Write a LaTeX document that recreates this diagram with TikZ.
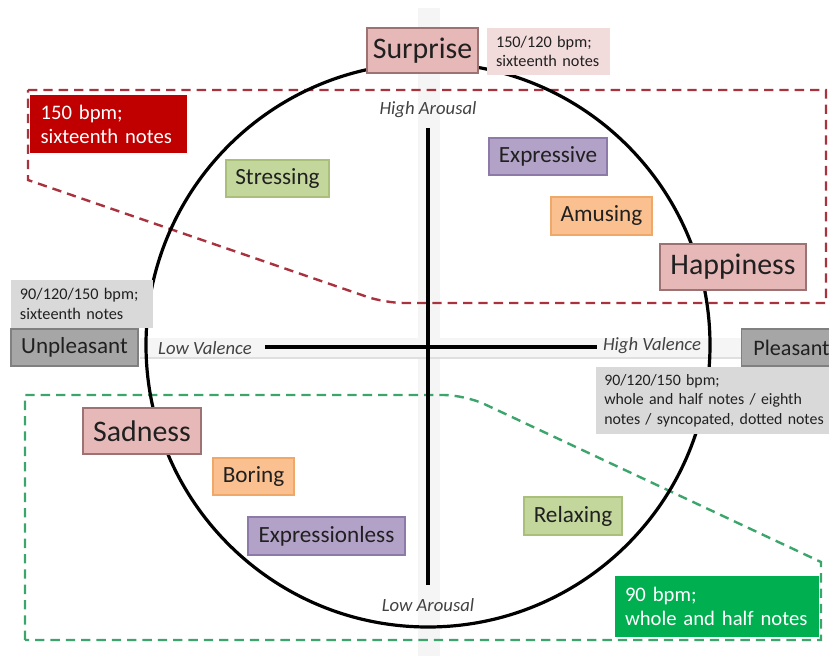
\documentclass[tikz,border=0pt]{standalone}
\usepackage{fontspec}
\setmainfont{Carlito}
\usepackage{xcolor}
\usetikzlibrary{positioning}
\definecolor{txt}{HTML}{202020}
\definecolor{rosefd}{HTML}{E6B9B8}
\definecolor{rosebd}{HTML}{9C7372}
\definecolor{roseclair}{HTML}{F2DCDB}
\definecolor{vertfd}{HTML}{C3D69B}
\definecolor{vertbd}{HTML}{A9BF7A}
\definecolor{violetfd}{HTML}{B3A2C7}
\definecolor{violetbd}{HTML}{8D7AA8}
\definecolor{orangefd}{HTML}{FAC090}
\definecolor{orangebd}{HTML}{F0A868}
\definecolor{grisclair}{HTML}{D9D9D9}
\definecolor{grisfonce}{HTML}{A6A6A6}
\definecolor{rougefort}{HTML}{C00000}
\definecolor{vertfort}{HTML}{00B050}
\definecolor{rougetir}{HTML}{A8333F}
\definecolor{verttir}{HTML}{3CA56C}

\begin{document}
\begin{tikzpicture}[x=0.75pt, y=-0.75pt,
 emo/.style={draw, line width=0.8pt, text=txt, inner sep=0pt, font=\fontsize{17.4}{19}\selectfont},
 grand/.style={emo, fill=rosefd, draw=rosebd, font=\fontsize{22.4}{24}\selectfont},
 note/.style={align=left, inner ysep=0pt, text=txt, font=\fontsize{12.2}{14.8}\selectfont},
 cadre/.style={align=left, inner ysep=0pt, text=white, font=\fontsize{15.5}{18}\selectfont},
 axe/.style={line width=2.4pt, black},
 axlbl/.style={text=txt!85, font=\fontsize{14}{16}\itshape\selectfont},
 tiret/.style={line width=1.8pt, dash pattern=on 7pt off 4.5pt}]
\useasboundingbox (0,0) rectangle (829,656);
% bandes grises
\fill[gray!8] (418,8) rectangle (440,656);
\fill[gray!8] (140,338) rectangle (745,358);
\draw[gray!25, line width=1pt] (140,358) -- (745,358);
% zones en tirets
\draw[tiret, rougetir] (28,90) -- (826,90) -- (826,303)
  [rounded corners=14pt] -- (385,303) [sharp corners] -- (28,180) -- cycle;
\draw[tiret, verttir] (25,640) -- (25,395) [rounded corners=16pt] -- (465,395)
  [sharp corners] -- (821,562) -- (821,640) -- cycle;
% cercle et axes
\node[draw, circle, line width=2.4pt, minimum size=423pt, inner sep=0pt] (cercle) at (428,345) {};
\coordinate (haut) at (428,128);
\coordinate (bas) at (428,585);
\coordinate (gauche) at (265,347);
\coordinate (droite) at (597,347);
\draw[axe] (haut) -- (bas);
\draw[axe] (gauche) -- (droite);
\node[axlbl] (ha) at (428,110) {High Arousal};
\node[axlbl] (la) at (428,605) {Low Arousal};
\node[axlbl] (lv) at (205,348) {Low Valence};
\node[axlbl] (hv) at (652,346) {High Valence};
% emotions principales
\node[grand, minimum width=83.25pt, minimum height=33.75pt] (surprise) at (422.5,50.5) {Surprise};
\node[grand, minimum width=109.5pt, minimum height=34.5pt] (happy) at (733,267) {Happiness};
\node[grand, minimum width=88.5pt, minimum height=34.5pt] (sad) at (142,431) {Sadness};
% qualificatifs
\node[emo, fill=vertfd, draw=vertbd, minimum width=77.25pt, minimum height=27.75pt] (stress) at (277.5,178.5) {Stressing};
\node[emo, fill=violetfd, draw=violetbd, minimum width=88.5pt, minimum height=27.75pt] (expr) at (548,156.5) {Expressive};
\node[emo, fill=orangefd, draw=orangebd, minimum width=75.75pt, minimum height=28.5pt] (amus) at (601.5,216) {Amusing};
\node[emo, fill=orangefd, draw=orangebd, minimum width=60.75pt, minimum height=27.75pt] (boring) at (253.5,476.5) {Boring};
\node[emo, fill=violetfd, draw=violetbd, minimum width=117.75pt, minimum height=28.5pt] (exless) at (326.5,536) {Expressionless};
\node[emo, fill=vertfd, draw=vertbd, minimum width=73.5pt, minimum height=28.5pt] (relax) at (573,516) {Relaxing};
% pôles
\node[emo, fill=grisfonce, draw=gray, minimum width=95.25pt, minimum height=27.75pt,
  font=\fontsize{17.3}{19}\selectfont] (unpl) at (74.5,347.5) {Unpleasant};
\node[emo, fill=grisfonce, draw=gray, minimum width=75pt, minimum height=27.75pt, anchor=west,
  inner xsep=6pt, font=\fontsize{16.6}{19}\selectfont] (pleas) at (741,347.5) {Pleasant};
% notes de tempo
\node[note, fill=roseclair, text width=78.75pt, inner xsep=6.75pt, minimum height=35.25pt] (nsur) at (548.5,51.5)
  {150/120 bpm;\\ sixteenth notes};
\node[note, fill=grisclair, text width=93pt, inner xsep=6.75pt, minimum height=36pt] (ngauche) at (82,304)
  {90/120/150 bpm;\\ sixteenth notes};
\node[note, fill=grisclair, text width=168pt, inner xsep=6pt, minimum height=50.25pt, anchor=north west,
  font=\fontsize{11.9}{14.8}\selectfont] (ndroite) at (596,367)
  {90/120/150 bpm;\\ whole and half notes / eighth\\ notes / syncopated, dotted notes};
\node[cadre, fill=rougefort, text width=101.75pt, inner xsep=8pt, minimum height=43.5pt] (nrouge) at (108.5,124)
  {150 bpm;\\ sixteenth notes};
\node[cadre, fill=vertfort, text width=138pt, inner xsep=7.5pt, minimum height=45.75pt] (nvert) at (717,606.5)
  {90 bpm;\\ whole and half notes};
\end{tikzpicture}
\end{document}
